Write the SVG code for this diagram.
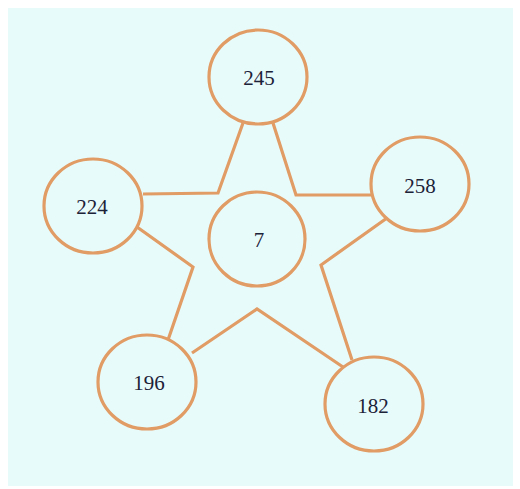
<svg xmlns="http://www.w3.org/2000/svg" width="520" height="489" viewBox="0 0 520 489">
<style>
.n{fill:none;stroke:#e09c64;stroke-width:3.2}
.e{fill:none;stroke:#e09c64;stroke-width:3.2;stroke-linejoin:miter}
.t{font-family:"Liberation Serif","Times New Roman",serif;font-size:21px;fill:#1c2238;text-anchor:middle;dominant-baseline:central}
</style>
<rect x="0" y="0" width="520" height="489" fill="#ffffff"/>
<rect x="8" y="8" width="505" height="478" fill="#e8fbfb"/>
<g id="connectors">
<polyline class="e" points="143,194 218,193 243,123"/>
<polyline class="e" points="273,123 296,195 371,195"/>
<polyline class="e" points="387,218 321,265 352,360"/>
<polyline class="e" points="343,367 257,309 192,353"/>
<polyline class="e" points="168,340 193,267 137,227"/>
</g>
<g id="n245"><ellipse class="n" cx="258" cy="77" rx="49" ry="47"/><text class="t" x="259" y="78">245</text></g>
<g id="n258"><ellipse class="n" cx="420" cy="184" rx="49" ry="47"/><text class="t" x="420" y="186">258</text></g>
<g id="n224"><ellipse class="n" cx="93" cy="206" rx="49" ry="47"/><text class="t" x="92" y="207">224</text></g>
<g id="n7"><ellipse class="n" cx="257" cy="239" rx="48" ry="47"/><text class="t" x="259" y="240">7</text></g>
<g id="n196"><ellipse class="n" cx="147" cy="382" rx="49" ry="47"/><text class="t" x="149" y="383">196</text></g>
<g id="n182"><ellipse class="n" cx="374" cy="404" rx="49" ry="47"/><text class="t" x="373" y="406">182</text></g>
</svg>
